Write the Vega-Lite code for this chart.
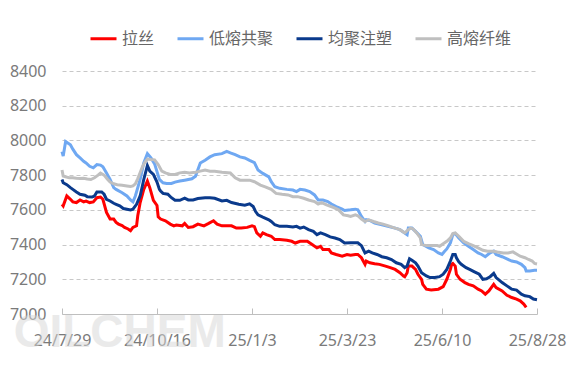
{
  "$schema": "https://vega.github.io/schema/vega-lite/v6.json",
  "width": 475,
  "height": 243,
  "autosize": {"type": "none"},
  "padding": {"left": 62, "top": 71, "right": 30, "bottom": 63},
  "background": "white",
  "config": {"view": {"stroke": null}, "font": "Noto Sans"},
  "datasets": {
    "lasi": [
      {"d":"2024-07-29","v":7632},{"d":"2024-07-30","v":7623},{"d":"2024-08-02","v":7680},{"d":"2024-08-05","v":7661},{"d":"2024-08-07","v":7646},{"d":"2024-08-10","v":7642},{"d":"2024-08-13","v":7657},{"d":"2024-08-16","v":7646},{"d":"2024-08-18","v":7651},{"d":"2024-08-21","v":7642},{"d":"2024-08-24","v":7646},{"d":"2024-08-27","v":7670},{"d":"2024-08-30","v":7674},{"d":"2024-09-01","v":7661},{"d":"2024-09-04","v":7585},{"d":"2024-09-07","v":7547},{"d":"2024-09-10","v":7547},{"d":"2024-09-12","v":7528},{"d":"2024-09-14","v":7518},{"d":"2024-09-17","v":7509},{"d":"2024-09-19","v":7499},{"d":"2024-09-22","v":7490},{"d":"2024-09-24","v":7480},{"d":"2024-09-26","v":7499},{"d":"2024-09-29","v":7508},{"d":"2024-09-30","v":7566},{"d":"2024-10-02","v":7642},{"d":"2024-10-05","v":7718},{"d":"2024-10-08","v":7766},{"d":"2024-10-10","v":7728},{"d":"2024-10-13","v":7655},{"d":"2024-10-16","v":7625},{"d":"2024-10-17","v":7560},{"d":"2024-10-19","v":7547},{"d":"2024-10-23","v":7537},{"d":"2024-10-27","v":7518},{"d":"2024-10-30","v":7508},{"d":"2024-11-01","v":7512},{"d":"2024-11-06","v":7508},{"d":"2024-11-08","v":7522},{"d":"2024-11-11","v":7499},{"d":"2024-11-15","v":7503},{"d":"2024-11-19","v":7518},{"d":"2024-11-24","v":7508},{"d":"2024-11-28","v":7522},{"d":"2024-12-02","v":7537},{"d":"2024-12-05","v":7518},{"d":"2024-12-09","v":7508},{"d":"2024-12-13","v":7508},{"d":"2024-12-17","v":7508},{"d":"2024-12-21","v":7495},{"d":"2024-12-25","v":7495},{"d":"2024-12-30","v":7499},{"d":"2025-01-03","v":7508},{"d":"2025-01-05","v":7503},{"d":"2025-01-07","v":7467},{"d":"2025-01-10","v":7448},{"d":"2025-01-12","v":7467},{"d":"2025-01-15","v":7457},{"d":"2025-01-19","v":7448},{"d":"2025-01-22","v":7429},{"d":"2025-01-26","v":7429},{"d":"2025-02-01","v":7425},{"d":"2025-02-05","v":7419},{"d":"2025-02-08","v":7409},{"d":"2025-02-12","v":7419},{"d":"2025-02-18","v":7419},{"d":"2025-02-22","v":7400},{"d":"2025-02-26","v":7381},{"d":"2025-03-01","v":7390},{"d":"2025-03-03","v":7371},{"d":"2025-03-08","v":7371},{"d":"2025-03-10","v":7352},{"d":"2025-03-14","v":7343},{"d":"2025-03-19","v":7333},{"d":"2025-03-23","v":7343},{"d":"2025-03-26","v":7338},{"d":"2025-03-30","v":7343},{"d":"2025-04-01","v":7343},{"d":"2025-04-04","v":7324},{"d":"2025-04-07","v":7286},{"d":"2025-04-08","v":7305},{"d":"2025-04-11","v":7295},{"d":"2025-04-15","v":7290},{"d":"2025-04-19","v":7286},{"d":"2025-04-24","v":7276},{"d":"2025-04-28","v":7267},{"d":"2025-05-02","v":7257},{"d":"2025-05-06","v":7238},{"d":"2025-05-09","v":7219},{"d":"2025-05-10","v":7215},{"d":"2025-05-12","v":7238},{"d":"2025-05-13","v":7276},{"d":"2025-05-16","v":7276},{"d":"2025-05-19","v":7257},{"d":"2025-05-21","v":7229},{"d":"2025-05-24","v":7200},{"d":"2025-05-25","v":7171},{"d":"2025-05-28","v":7143},{"d":"2025-06-01","v":7139},{"d":"2025-06-07","v":7143},{"d":"2025-06-11","v":7158},{"d":"2025-06-14","v":7200},{"d":"2025-06-17","v":7257},{"d":"2025-06-18","v":7286},{"d":"2025-06-19","v":7291},{"d":"2025-06-21","v":7276},{"d":"2025-06-22","v":7229},{"d":"2025-06-25","v":7200},{"d":"2025-06-29","v":7181},{"d":"2025-07-02","v":7171},{"d":"2025-07-06","v":7162},{"d":"2025-07-10","v":7143},{"d":"2025-07-13","v":7133},{"d":"2025-07-16","v":7114},{"d":"2025-07-19","v":7133},{"d":"2025-07-21","v":7152},{"d":"2025-07-23","v":7171},{"d":"2025-07-25","v":7152},{"d":"2025-07-30","v":7133},{"d":"2025-08-03","v":7108},{"d":"2025-08-07","v":7095},{"d":"2025-08-11","v":7086},{"d":"2025-08-14","v":7076},{"d":"2025-08-17","v":7057},{"d":"2025-08-19","v":7038}
    ],
    "dirong": [
      {"d":"2024-07-29","v":7935},{"d":"2024-07-30","v":7910},{"d":"2024-08-01","v":7994},{"d":"2024-08-05","v":7975},{"d":"2024-08-07","v":7950},{"d":"2024-08-10","v":7918},{"d":"2024-08-13","v":7899},{"d":"2024-08-16","v":7880},{"d":"2024-08-18","v":7870},{"d":"2024-08-21","v":7851},{"d":"2024-08-24","v":7842},{"d":"2024-08-27","v":7861},{"d":"2024-08-30","v":7858},{"d":"2024-09-01","v":7848},{"d":"2024-09-04","v":7813},{"d":"2024-09-07","v":7775},{"d":"2024-09-10","v":7728},{"d":"2024-09-12","v":7718},{"d":"2024-09-17","v":7699},{"d":"2024-09-21","v":7680},{"d":"2024-09-24","v":7657},{"d":"2024-09-26","v":7646},{"d":"2024-09-28","v":7680},{"d":"2024-10-02","v":7775},{"d":"2024-10-05","v":7870},{"d":"2024-10-08","v":7924},{"d":"2024-10-11","v":7899},{"d":"2024-10-14","v":7865},{"d":"2024-10-18","v":7775},{"d":"2024-10-21","v":7756},{"d":"2024-10-24","v":7752},{"d":"2024-10-28","v":7752},{"d":"2024-10-31","v":7760},{"d":"2024-11-04","v":7766},{"d":"2024-11-08","v":7771},{"d":"2024-11-14","v":7779},{"d":"2024-11-17","v":7794},{"d":"2024-11-21","v":7870},{"d":"2024-11-25","v":7886},{"d":"2024-11-29","v":7905},{"d":"2024-12-03","v":7918},{"d":"2024-12-09","v":7924},{"d":"2024-12-13","v":7937},{"d":"2024-12-16","v":7928},{"d":"2024-12-20","v":7918},{"d":"2024-12-24","v":7905},{"d":"2024-12-28","v":7899},{"d":"2025-01-01","v":7885},{"d":"2025-01-05","v":7872},{"d":"2025-01-08","v":7829},{"d":"2025-01-12","v":7810},{"d":"2025-01-17","v":7790},{"d":"2025-01-19","v":7762},{"d":"2025-01-22","v":7733},{"d":"2025-01-26","v":7724},{"d":"2025-02-01","v":7718},{"d":"2025-02-06","v":7714},{"d":"2025-02-09","v":7705},{"d":"2025-02-12","v":7718},{"d":"2025-02-16","v":7714},{"d":"2025-02-20","v":7705},{"d":"2025-02-24","v":7686},{"d":"2025-02-27","v":7657},{"d":"2025-03-03","v":7657},{"d":"2025-03-07","v":7648},{"d":"2025-03-10","v":7634},{"d":"2025-03-14","v":7619},{"d":"2025-03-19","v":7604},{"d":"2025-03-21","v":7596},{"d":"2025-03-26","v":7600},{"d":"2025-03-30","v":7604},{"d":"2025-04-01","v":7600},{"d":"2025-04-04","v":7562},{"d":"2025-04-07","v":7533},{"d":"2025-04-08","v":7543},{"d":"2025-04-11","v":7539},{"d":"2025-04-15","v":7524},{"d":"2025-04-21","v":7514},{"d":"2025-04-26","v":7505},{"d":"2025-05-02","v":7495},{"d":"2025-05-06","v":7486},{"d":"2025-05-10","v":7467},{"d":"2025-05-12","v":7457},{"d":"2025-05-13","v":7495},{"d":"2025-05-16","v":7495},{"d":"2025-05-19","v":7476},{"d":"2025-05-23","v":7448},{"d":"2025-05-25","v":7400},{"d":"2025-05-30","v":7381},{"d":"2025-06-03","v":7371},{"d":"2025-06-07","v":7352},{"d":"2025-06-10","v":7343},{"d":"2025-06-12","v":7360},{"d":"2025-06-14","v":7375},{"d":"2025-06-17","v":7410},{"d":"2025-06-19","v":7457},{"d":"2025-06-21","v":7463},{"d":"2025-06-24","v":7438},{"d":"2025-06-28","v":7410},{"d":"2025-07-02","v":7390},{"d":"2025-07-06","v":7371},{"d":"2025-07-10","v":7352},{"d":"2025-07-13","v":7343},{"d":"2025-07-16","v":7330},{"d":"2025-07-20","v":7352},{"d":"2025-07-23","v":7362},{"d":"2025-07-25","v":7343},{"d":"2025-07-30","v":7330},{"d":"2025-08-03","v":7318},{"d":"2025-08-07","v":7305},{"d":"2025-08-11","v":7300},{"d":"2025-08-15","v":7286},{"d":"2025-08-18","v":7267},{"d":"2025-08-19","v":7248},{"d":"2025-08-22","v":7248},{"d":"2025-08-26","v":7252},{"d":"2025-08-28","v":7252}
    ],
    "junju": [
      {"d":"2024-07-29","v":7775},{"d":"2024-07-30","v":7756},{"d":"2024-08-02","v":7745},{"d":"2024-08-05","v":7728},{"d":"2024-08-07","v":7718},{"d":"2024-08-10","v":7703},{"d":"2024-08-13","v":7690},{"d":"2024-08-17","v":7684},{"d":"2024-08-19","v":7676},{"d":"2024-08-23","v":7674},{"d":"2024-08-25","v":7680},{"d":"2024-08-27","v":7703},{"d":"2024-08-31","v":7703},{"d":"2024-09-02","v":7690},{"d":"2024-09-04","v":7661},{"d":"2024-09-07","v":7651},{"d":"2024-09-10","v":7638},{"d":"2024-09-12","v":7632},{"d":"2024-09-15","v":7623},{"d":"2024-09-18","v":7608},{"d":"2024-09-21","v":7604},{"d":"2024-09-24","v":7600},{"d":"2024-09-26","v":7604},{"d":"2024-09-29","v":7632},{"d":"2024-10-02","v":7680},{"d":"2024-10-05","v":7775},{"d":"2024-10-08","v":7855},{"d":"2024-10-10","v":7823},{"d":"2024-10-13","v":7804},{"d":"2024-10-16","v":7760},{"d":"2024-10-18","v":7718},{"d":"2024-10-19","v":7709},{"d":"2024-10-21","v":7695},{"d":"2024-10-25","v":7690},{"d":"2024-10-28","v":7670},{"d":"2024-10-31","v":7655},{"d":"2024-11-04","v":7655},{"d":"2024-11-08","v":7667},{"d":"2024-11-11","v":7657},{"d":"2024-11-15","v":7657},{"d":"2024-11-19","v":7665},{"d":"2024-11-25","v":7670},{"d":"2024-11-29","v":7670},{"d":"2024-12-03","v":7667},{"d":"2024-12-09","v":7651},{"d":"2024-12-13","v":7655},{"d":"2024-12-17","v":7642},{"d":"2024-12-23","v":7632},{"d":"2024-12-28","v":7627},{"d":"2025-01-01","v":7635},{"d":"2025-01-04","v":7619},{"d":"2025-01-06","v":7590},{"d":"2025-01-08","v":7571},{"d":"2025-01-12","v":7558},{"d":"2025-01-17","v":7543},{"d":"2025-01-19","v":7533},{"d":"2025-01-22","v":7514},{"d":"2025-01-26","v":7505},{"d":"2025-02-01","v":7505},{"d":"2025-02-06","v":7501},{"d":"2025-02-09","v":7505},{"d":"2025-02-12","v":7495},{"d":"2025-02-15","v":7501},{"d":"2025-02-19","v":7486},{"d":"2025-02-23","v":7476},{"d":"2025-02-26","v":7457},{"d":"2025-03-01","v":7467},{"d":"2025-03-05","v":7457},{"d":"2025-03-09","v":7444},{"d":"2025-03-13","v":7438},{"d":"2025-03-17","v":7429},{"d":"2025-03-21","v":7409},{"d":"2025-03-26","v":7410},{"d":"2025-04-01","v":7410},{"d":"2025-04-04","v":7394},{"d":"2025-04-07","v":7352},{"d":"2025-04-10","v":7362},{"d":"2025-04-13","v":7352},{"d":"2025-04-17","v":7343},{"d":"2025-04-21","v":7330},{"d":"2025-04-25","v":7324},{"d":"2025-04-29","v":7314},{"d":"2025-05-03","v":7295},{"d":"2025-05-07","v":7286},{"d":"2025-05-10","v":7267},{"d":"2025-05-12","v":7276},{"d":"2025-05-14","v":7318},{"d":"2025-05-16","v":7310},{"d":"2025-05-19","v":7295},{"d":"2025-05-21","v":7276},{"d":"2025-05-24","v":7238},{"d":"2025-05-28","v":7219},{"d":"2025-05-31","v":7210},{"d":"2025-06-04","v":7210},{"d":"2025-06-08","v":7215},{"d":"2025-06-11","v":7229},{"d":"2025-06-14","v":7257},{"d":"2025-06-17","v":7305},{"d":"2025-06-19","v":7343},{"d":"2025-06-21","v":7343},{"d":"2025-06-22","v":7324},{"d":"2025-06-24","v":7300},{"d":"2025-06-26","v":7286},{"d":"2025-06-30","v":7267},{"d":"2025-07-03","v":7257},{"d":"2025-07-07","v":7243},{"d":"2025-07-11","v":7229},{"d":"2025-07-14","v":7200},{"d":"2025-07-17","v":7203},{"d":"2025-07-20","v":7215},{"d":"2025-07-23","v":7234},{"d":"2025-07-25","v":7210},{"d":"2025-07-30","v":7181},{"d":"2025-08-03","v":7162},{"d":"2025-08-07","v":7143},{"d":"2025-08-11","v":7138},{"d":"2025-08-15","v":7114},{"d":"2025-08-18","v":7105},{"d":"2025-08-22","v":7100},{"d":"2025-08-25","v":7086},{"d":"2025-08-28","v":7082}
    ],
    "gaorong": [
      {"d":"2024-07-29","v":7830},{"d":"2024-07-30","v":7795},{"d":"2024-08-01","v":7790},{"d":"2024-08-04","v":7785},{"d":"2024-08-07","v":7785},{"d":"2024-08-10","v":7782},{"d":"2024-08-13","v":7780},{"d":"2024-08-16","v":7782},{"d":"2024-08-19","v":7778},{"d":"2024-08-22","v":7775},{"d":"2024-08-25","v":7785},{"d":"2024-08-28","v":7800},{"d":"2024-08-30","v":7812},{"d":"2024-09-02","v":7800},{"d":"2024-09-05","v":7775},{"d":"2024-09-07","v":7760},{"d":"2024-09-10","v":7750},{"d":"2024-09-13","v":7745},{"d":"2024-09-17","v":7742},{"d":"2024-09-21","v":7738},{"d":"2024-09-24","v":7735},{"d":"2024-09-26","v":7738},{"d":"2024-09-28","v":7750},{"d":"2024-09-30","v":7780},{"d":"2024-10-02","v":7815},{"d":"2024-10-04","v":7850},{"d":"2024-10-06","v":7875},{"d":"2024-10-08","v":7893},{"d":"2024-10-11","v":7890},{"d":"2024-10-14","v":7888},{"d":"2024-10-17","v":7861},{"d":"2024-10-20","v":7823},{"d":"2024-10-23","v":7813},{"d":"2024-10-27","v":7804},{"d":"2024-10-31","v":7804},{"d":"2024-11-04","v":7813},{"d":"2024-11-08","v":7817},{"d":"2024-11-12","v":7813},{"d":"2024-11-17","v":7817},{"d":"2024-11-21","v":7823},{"d":"2024-11-25","v":7829},{"d":"2024-11-29","v":7823},{"d":"2024-12-03","v":7823},{"d":"2024-12-09","v":7817},{"d":"2024-12-16","v":7813},{"d":"2024-12-20","v":7785},{"d":"2024-12-24","v":7771},{"d":"2024-12-28","v":7770},{"d":"2025-01-01","v":7771},{"d":"2025-01-05","v":7762},{"d":"2025-01-10","v":7743},{"d":"2025-01-14","v":7733},{"d":"2025-01-19","v":7718},{"d":"2025-01-23","v":7695},{"d":"2025-01-28","v":7690},{"d":"2025-02-02","v":7686},{"d":"2025-02-06","v":7676},{"d":"2025-02-10","v":7676},{"d":"2025-02-15","v":7667},{"d":"2025-02-19","v":7657},{"d":"2025-02-24","v":7648},{"d":"2025-02-27","v":7634},{"d":"2025-03-02","v":7642},{"d":"2025-03-06","v":7629},{"d":"2025-03-12","v":7613},{"d":"2025-03-16","v":7600},{"d":"2025-03-20","v":7571},{"d":"2025-03-24","v":7566},{"d":"2025-03-26","v":7562},{"d":"2025-03-30","v":7571},{"d":"2025-04-01","v":7566},{"d":"2025-04-04","v":7547},{"d":"2025-04-07","v":7533},{"d":"2025-04-10","v":7543},{"d":"2025-04-14","v":7533},{"d":"2025-04-18","v":7524},{"d":"2025-04-22","v":7518},{"d":"2025-04-26","v":7509},{"d":"2025-05-02","v":7495},{"d":"2025-05-06","v":7486},{"d":"2025-05-10","v":7467},{"d":"2025-05-13","v":7486},{"d":"2025-05-15","v":7495},{"d":"2025-05-17","v":7490},{"d":"2025-05-20","v":7467},{"d":"2025-05-23","v":7438},{"d":"2025-05-24","v":7400},{"d":"2025-05-28","v":7394},{"d":"2025-06-01","v":7394},{"d":"2025-06-06","v":7394},{"d":"2025-06-08","v":7390},{"d":"2025-06-11","v":7405},{"d":"2025-06-14","v":7419},{"d":"2025-06-17","v":7438},{"d":"2025-06-19","v":7463},{"d":"2025-06-21","v":7467},{"d":"2025-06-24","v":7448},{"d":"2025-06-28","v":7419},{"d":"2025-07-02","v":7405},{"d":"2025-07-06","v":7394},{"d":"2025-07-10","v":7381},{"d":"2025-07-14","v":7367},{"d":"2025-07-18","v":7362},{"d":"2025-07-23","v":7362},{"d":"2025-07-26","v":7357},{"d":"2025-07-31","v":7352},{"d":"2025-08-04","v":7352},{"d":"2025-08-08","v":7358},{"d":"2025-08-14","v":7333},{"d":"2025-08-18","v":7324},{"d":"2025-08-21","v":7314},{"d":"2025-08-24","v":7305},{"d":"2025-08-26","v":7291},{"d":"2025-08-28","v":7288}
    ],
    "mark": [{"d":"2024-09-15","v":6810,"t":"OILCHEM"}]
  },
  "encoding": {
    "x": {
      "field": "d", "type": "temporal", "title": null,
      "scale": {"type": "utc", "domain": [{"year": 2024, "month": 7, "date": 29, "utc": true}, {"year": 2025, "month": 8, "date": 28, "utc": true}]},
      "axis": {
        "values": [
          {"year": 2024, "month": 7, "date": 29, "utc": true},
          {"year": 2024, "month": 10, "date": 16, "utc": true},
          {"year": 2025, "month": 1, "date": 3, "utc": true},
          {"year": 2025, "month": 3, "date": 23, "utc": true},
          {"year": 2025, "month": 6, "date": 10, "utc": true},
          {"year": 2025, "month": 8, "date": 28, "utc": true}
        ],
        "labelExpr": "utcFormat(datum.value, '%y/%-m/%-d')",
        "grid": false, "domainColor": "#bfbfbf", "tickColor": "#bfbfbf", "tickSize": -6,
        "labelPadding": 24, "labelFontSize": 16, "labelColor": "#7a7a7a", "labelFont": "Noto Sans",
        "labelFlush": false, "labelOverlap": false
      }
    },
    "y": {
      "field": "v", "type": "quantitative", "title": null,
      "scale": {"domain": [7000, 8400], "zero": false, "nice": false},
      "axis": {
        "values": [7000, 7200, 7400, 7600, 7800, 8000, 8200, 8400],
        "format": "d",
        "domain": false, "ticks": false, "labelPadding": 16,
        "gridDash": [4, 3], "gridColor": "#c8c8c8", "gridWidth": 1,
        "labelFontSize": 16, "labelColor": "#7a7a7a", "labelFont": "Noto Sans"
      }
    }
  },
  "layer": [
    {
      "data": {"name": "mark"},
      "mark": {"type": "text", "font": "Liberation Sans", "fontWeight": "bold", "fontSize": 46, "color": "#d6d6d6", "opacity": 0.5, "align": "center", "baseline": "alphabetic", "clip": false},
      "encoding": {"text": {"field": "t"}}
    },
    {"data": {"name": "lasi"}, "mark": {"type": "line", "strokeWidth": 3}, "encoding": {"color": {"datum": "拉丝", "type": "nominal"}}},
    {"data": {"name": "dirong"}, "mark": {"type": "line", "strokeWidth": 3}, "encoding": {"color": {"datum": "低熔共聚", "type": "nominal"}}},
    {"data": {"name": "junju"}, "mark": {"type": "line", "strokeWidth": 3}, "encoding": {"color": {"datum": "均聚注塑", "type": "nominal"}}},
    {
      "data": {"name": "gaorong"}, "mark": {"type": "line", "strokeWidth": 3},
      "encoding": {
        "color": {
          "datum": "高熔纤维", "type": "nominal",
          "scale": {"domain": ["拉丝", "低熔共聚", "均聚注塑", "高熔纤维"], "range": ["#ff0000", "#6fa8f2", "#0a3a8c", "#bfbfbf"]},
          "legend": {
            "orient": "none", "legendX": 27, "legendY": -47, "direction": "horizontal", "title": null,
            "symbolType": "stroke", "symbolStrokeWidth": 3, "symbolSize": 676,
            "labelFontSize": 16, "labelFont": "Noto Sans CJK SC", "labelColor": "#666666",
            "columnPadding": 16, "labelOffset": 4, "padding": 0
          }
        }
      }
    }
  ]
}
